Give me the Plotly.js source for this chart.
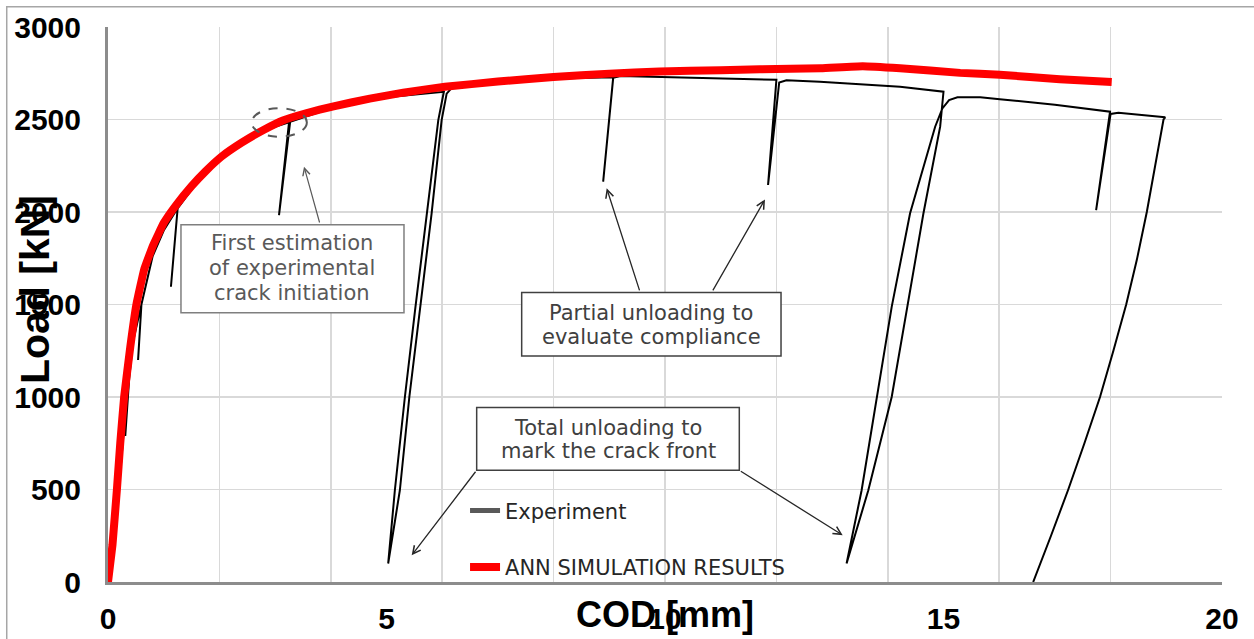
<!DOCTYPE html>
<html>
<head>
<meta charset="utf-8">
<script src="https://cdn.plot.ly/plotly-3.0.1.min.js"></script>
<style>
  html, body { margin: 0; padding: 0; background: #ffffff; }
  #chart { width: 1254px; height: 639px; }
</style>
</head>
<body>
<div id="chart"></div>
<script>
// ANN simulation curve: COD [mm] vs Load [kN]
const annCOD  = [0, 0.04, 0.08, 0.16, 0.22, 0.29, 0.40, 0.51, 0.65, 0.81, 1.00, 1.23, 1.50, 1.75, 2.04, 2.40, 2.80, 3.14, 3.57, 4.03, 4.70, 5.30, 6.05, 7.00, 8.00, 9.00, 9.90, 11.00, 11.70, 12.80, 13.55, 14.22, 15.30, 16.01, 17.09, 18.02];
const annLoad = [0, 100, 200, 500, 750, 1000, 1270, 1500, 1690, 1820, 1940, 2040, 2140, 2220, 2300, 2375, 2445, 2495, 2535, 2570, 2613, 2645, 2677, 2705, 2730, 2748, 2760, 2766, 2771, 2777, 2788, 2777, 2752, 2742, 2718, 2703];

// Experimental curve (loading, partial unloadings, total unloadings)
const expCOD  = [0, 0.10, 0.20, 0.30, 0.38, 0.31, 0.38, 0.45, 0.60, 0.54, 0.60, 0.80, 1.00, 1.25, 1.13, 1.25, 1.60, 2.00, 2.50, 3.00, 3.25, 3.07, 3.27, 4.00, 5.00, 6.03,
                 5.93, 5.72, 5.52, 5.33, 5.15, 5.03, 5.24, 5.41, 5.60, 5.81, 5.99, 6.08, 6.20, 6.50, 7.00, 8.00, 9.07, 8.89, 9.07, 9.20, 10.00, 11.00, 12.00, 11.85, 12.05, 12.18, 12.78, 14.22, 15.00,
                 14.94, 14.64, 14.35, 14.07, 13.65, 13.26, 13.53, 13.80, 14.07, 14.40, 14.85, 14.98, 15.10, 15.25, 15.50, 15.66, 16.01, 17.00, 17.99, 17.74, 18.00, 18.14, 18.98,
                 18.95, 18.80, 18.65, 18.47, 18.28, 18.05, 17.81, 17.53, 17.24, 16.93, 16.61];
const expLoad = [0, 170, 520, 880, 1100, 790, 1100, 1300, 1500, 1200, 1500, 1760, 1900, 2020, 1596, 2020, 2160, 2290, 2395, 2460, 2485, 1983, 2487, 2560, 2620, 2650,
                 2497, 1993, 1487, 1000, 496, 100, 496, 1000, 1487, 1993, 2497, 2640, 2680, 2700, 2710, 2722, 2728, 2164, 2725, 2735, 2730, 2724, 2715, 2146, 2700, 2712, 2704, 2677, 2650,
                 2461, 1993, 1487, 1000, 496, 100, 496, 1000, 1487, 1993, 2461, 2560, 2605, 2620, 2622, 2620, 2610, 2580, 2542, 2010, 2530, 2537, 2512,
                 2500, 2250, 2000, 1740, 1500, 1250, 1000, 750, 500, 250, 0];

const seriesNames = ['Experiment', 'ANN SIMULATION RESULTS'];
const xTickVals = [0, 5, 10, 15, 20];
const yTickVals = [0, 500, 1000, 1500, 2000, 2500, 3000];

// annotation boxes: [x0, x1, y0, y1] in data units, border colour
const boxes = [
  {x0: 1.310, x1: 5.314, y0: 1456, y1: 1931, color: '#7f7f7f'},
  {x0: 7.427, x1: 12.083, y0: 1221, y1: 1565, color: '#404040'},
  {x0: 6.619, x1: 11.334, y0: 604, y1: 943, color: '#404040'}
];
// box text lines: [text, x, y]
const boxLines = [
  ['First estimation', 3.312, 1830, '#595959'],
  ['of experimental', 3.312, 1695, '#595959'],
  ['crack initiation', 3.312, 1560, '#595959'],
  ['Partial unloading to', 9.756, 1452, '#404040'],
  ['evaluate compliance', 9.756, 1326, '#404040'],
  ['Total unloading to', 8.977, 833, '#404040'],
  ['mark the crack front', 8.977, 707, '#404040']
];

const traces = [
  {x: expCOD, y: expLoad, mode: 'lines', line: {color: '#000000', width: 2}, showlegend: false, hoverinfo: 'skip'},
  {x: [null], y: [null], mode: 'lines', line: {color: '#595959', width: 5}, name: seriesNames[0], legendgroup: 'a'},
  {x: annCOD, y: annLoad, mode: 'lines', line: {color: '#ff0000', width: 8, shape: 'spline', smoothing: 0.3}, name: seriesNames[1], legendgroup: 'b'}
];

const shapes = [
  {type: 'rect', xref: 'paper', yref: 'paper', x0: -0.0909, x1: 1.1, y0: -0.2, y1: 1.0365, line: {color: '#a6a6a6', width: 1.5}, fillcolor: 'rgba(0,0,0,0)', layer: 'below'},
  {type: 'circle', xref: 'x', yref: 'y', x0: 2.58, x1: 3.57, y0: 2407, y1: 2561, line: {color: '#595959', width: 2, dash: 'dash'}}
];
boxes.forEach(b => shapes.push({type: 'rect', xref: 'x', yref: 'y', x0: b.x0, x1: b.x1, y0: b.y0, y1: b.y1,
  line: {color: b.color, width: 1.5}, fillcolor: '#ffffff', layer: 'above'}));

const annotations = [
  {text: '<b>COD [mm]</b>', xref: 'x', yref: 'paper', x: 10, y: -0.058, showarrow: false, xanchor: 'center', yanchor: 'middle',
   font: {family: 'Liberation Sans, Arial, sans-serif', size: 36, color: '#000000'}},
  {text: '<b>Load [kN]</b>', xref: 'paper', yref: 'paper', x: -0.0655, y: 0.526, showarrow: false, textangle: -90, xanchor: 'center', yanchor: 'middle',
   font: {family: 'Liberation Sans, Arial, sans-serif', size: 41, color: '#000000'}},
  {text: '', xref: 'x', yref: 'y', axref: 'x', ayref: 'y', x: 3.519, y: 2245, ax: 3.806, ay: 1935, showarrow: true, arrowhead: 5, arrowsize: 1.2, arrowwidth: 1.2, arrowcolor: '#595959'},
  {text: '', xref: 'x', yref: 'y', axref: 'x', ayref: 'y', x: 8.953, y: 2128, ax: 9.551, ay: 1568, showarrow: true, arrowhead: 5, arrowsize: 1.2, arrowwidth: 1.3, arrowcolor: '#262626'},
  {text: '', xref: 'x', yref: 'y', axref: 'x', ayref: 'y', x: 11.795, y: 2068, ax: 10.844, ay: 1568, showarrow: true, arrowhead: 5, arrowsize: 1.2, arrowwidth: 1.3, arrowcolor: '#262626'},
  {text: '', xref: 'x', yref: 'y', axref: 'x', ayref: 'y', x: 5.452, y: 144, ax: 6.619, ay: 604, showarrow: true, arrowhead: 5, arrowsize: 1.2, arrowwidth: 1.3, arrowcolor: '#262626'},
  {text: '', xref: 'x', yref: 'y', axref: 'x', ayref: 'y', x: 13.19, y: 253, ax: 11.334, ay: 604, showarrow: true, arrowhead: 5, arrowsize: 1.2, arrowwidth: 1.3, arrowcolor: '#262626'}
];
boxLines.forEach(l => annotations.push({text: l[0], xref: 'x', yref: 'y', x: l[1], y: l[2], showarrow: false,
  xanchor: 'center', yanchor: 'middle', font: {family: 'DejaVu Sans, sans-serif', size: 21, color: l[3]}}));

const layout = {
  width: 1254, height: 639,
  margin: {l: 108, r: 32, t: 27, b: 57, pad: 0},
  paper_bgcolor: '#ffffff', plot_bgcolor: '#ffffff',
  showlegend: true,
  legend: {x: 0.3205, y: 0.165, xanchor: 'left', yanchor: 'top', bgcolor: 'rgba(0,0,0,0)',
           font: {family: 'DejaVu Sans, sans-serif', size: 21, color: '#262626'},
           traceorder: 'grouped', tracegroupgap: 26},
  xaxis: {range: [0, 20], tickvals: xTickVals, ticktext: xTickVals.map(String), showgrid: false, zeroline: false,
          showline: true, linecolor: '#8c8c8c', linewidth: 3, ticks: '', ticklabelstandoff: 8,
          tickfont: {family: 'Liberation Sans, Arial, sans-serif', size: 30, color: '#000000', weight: 'bold'},
          minor: {dtick: 2, tick0: 0, showgrid: true, gridcolor: '#d9d9d9', gridwidth: 1.5, ticks: ''}},
  yaxis: {range: [0, 3000], tickvals: yTickVals, ticktext: yTickVals.map(String), showgrid: true, gridcolor: '#d9d9d9', gridwidth: 1.5, zeroline: false,
          showline: true, linecolor: '#8c8c8c', linewidth: 3, ticks: '', ticklabelstandoff: 18,
          tickfont: {family: 'Liberation Sans, Arial, sans-serif', size: 30, color: '#000000', weight: 'bold'}},
  shapes: shapes,
  annotations: annotations
};

Plotly.newPlot('chart', traces, layout, {displayModeBar: false, staticPlot: true});
</script>
</body>
</html>
